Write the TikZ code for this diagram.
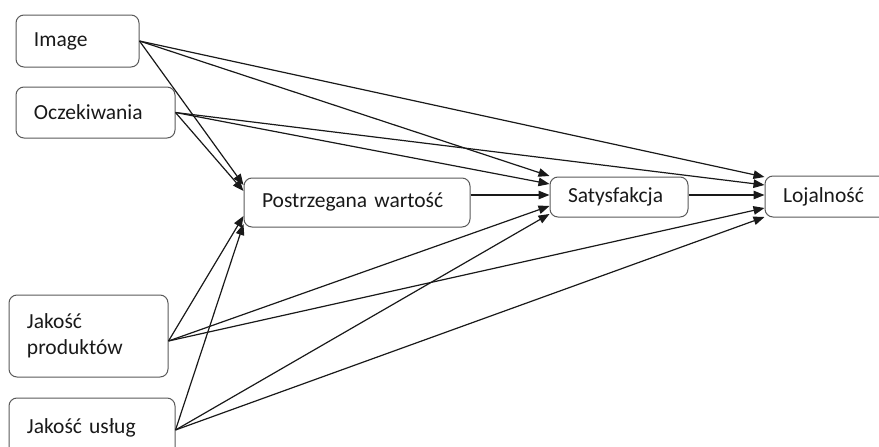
\documentclass[tikz,border=0pt]{standalone}
\usepackage{fontspec}
\setmainfont{Carlito}
\usetikzlibrary{arrows.meta,calc}
\begin{document}
\begin{tikzpicture}[x=1pt,y=-1pt,
  box/.style={draw=black!65,line width=1pt,rounded corners=8pt,inner xsep=18pt,
    inner ysep=0pt,align=left,font=\fontsize{21.5}{26}\selectfont,text=black!90},
  conn/.style={draw=black!90,line width=1.2pt,-{Triangle[length=11pt,width=8.5pt]}}]
\useasboundingbox (0,0) rectangle (879,447);
\node[box,minimum width=123pt,minimum height=52pt,text width=87pt] (img) at (77.5,41) {Image};
\node[box,minimum width=159pt,minimum height=51pt,text width=123pt] (ocz) at (95.5,112.5) {Oczekiwania};
\node[box,minimum width=226pt,minimum height=49pt,text width=190pt] (post) at (357,202.5) {Postrzegana wartość};
\node[box,minimum width=138pt,minimum height=40pt,text width=102pt] (sat) at (619,197) {Satysfakcja};
\node[box,minimum width=125pt,minimum height=41pt,text width=89pt] (loj) at (827.5,196.5) {Lojalność};
\node[box,minimum width=159pt,minimum height=82pt,text width=123pt] (prod) at (88.5,336) {Jakość\\produktów};
\node[box,minimum width=166pt,minimum height=60pt,text width=130pt] (usl) at (92,428) {Jakość usług};
% sources
\coordinate (prodE) at ($(prod.east)+(0,5)$);
\coordinate (uslE) at ($(usl.east)+(0,2)$);
% into Postrzegana
\draw[conn] (img.east) -- ($(post.west)+(0,-17.5)$);
\draw[conn] (ocz.east) -- ($(post.west)+(0,-11.5)$);
\draw[conn] (prodE) -- ($(post.west)+(0,13.5)$);
\draw[conn] (uslE) -- ($(post.west)+(0,21.5)$);
% into Satysfakcja
\draw[conn] (img.east) -- ($(sat.west)+(0,-21)$);
\draw[conn] (ocz.east) -- ($(sat.west)+(0,-13)$);
\draw[conn] ($(post.east)+(0,-7.5)$) -- ($(sat.west)+(0,-2)$);
\draw[conn] (prodE) -- ($(sat.west)+(0,9)$);
\draw[conn] (uslE) -- ($(sat.west)+(0,17)$);
% into Lojalnosc
\draw[conn] (img.east) -- ($(loj.west)+(0,-19.5)$);
\draw[conn] (ocz.east) -- ($(loj.west)+(0,-11.5)$);
\draw[conn] ($(sat.east)+(0,-2)$) -- ($(loj.west)+(0,-1.5)$);
\draw[conn] (prodE) -- ($(loj.west)+(0,11.5)$);
\draw[conn] (uslE) -- ($(loj.west)+(0,20.5)$);
\end{tikzpicture}
\end{document}
